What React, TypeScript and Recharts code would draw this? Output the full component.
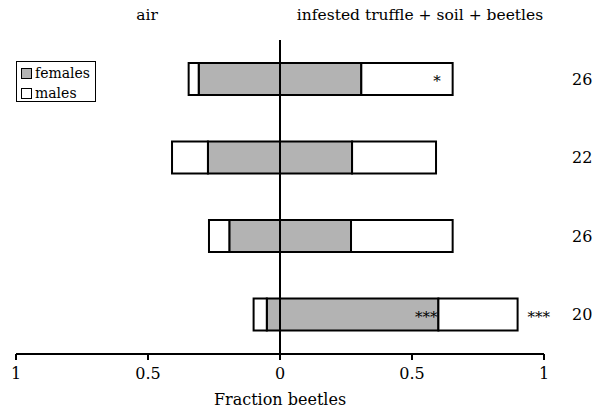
import { BarChart, Bar, XAxis, YAxis, ReferenceLine, LabelList, Label } from 'recharts';

// rows from top to bottom, fractions of beetles choosing each side
const rows = ['r1', 'r2', 'r3', 'r4'];
const sampleSizes = [26, 22, 26, 20];
const airFemales = [0.308, 0.273, 0.192, 0.05];
const airMales = [0.038, 0.136, 0.077, 0.05];
const truffleFemales = [0.308, 0.273, 0.269, 0.6];
const truffleMales = [0.346, 0.318, 0.385, 0.3];
const sigFemales = ['', '', '', '***'];
const sigMales = ['*', '', '', ''];
const sigTotal = ['', '', '', '***'];

const xTicks = [-1, -0.5, 0, 0.5, 1];
const legendItems = [
  { name: 'females', color: '#b3b3b3' },
  { name: 'males', color: '#ffffff' },
];

const data = rows.map((id, i) => ({
  id,
  n: sampleSizes[i],
  airF: -airFemales[i],
  airM: -airMales[i],
  trufF: truffleFemales[i],
  trufM: truffleMales[i],
  sigF: sigFemales[i],
  sigM: sigMales[i],
  sigT: sigTotal[i],
}));

const font = 'DejaVu Serif';

const starLabel = (mode: 'inside' | 'outside', offset: number) => (props: any) => {
  const { x, y, width, height, value } = props;
  if (!value) return null;
  const right = x + width;
  const tx = mode === 'inside' ? right - offset : right + offset;
  return (
    <text
      x={tx}
      y={y + height / 2 + 7}
      textAnchor={mode === 'inside' ? 'end' : 'start'}
      fontSize={15}
      fontFamily={font}
      fill="#000"
    >
      {value}
    </text>
  );
};

const LegendBox = () => (
  <div
    style={{
      position: 'absolute',
      left: 16,
      top: 61,
      width: 74,
      height: 38,
      border: '1.5px solid #000',
      padding: '1px 0 0 4px',
      fontFamily: font,
      fontSize: 14,
      lineHeight: '20px',
      background: '#fff',
    }}
  >
    {legendItems.map((it) => (
      <div key={it.name} style={{ display: 'flex', alignItems: 'center' }}>
        <span
          style={{
            display: 'inline-block',
            width: 9,
            height: 9,
            border: '1.2px solid #000',
            background: it.color,
            marginRight: 3,
          }}
        />
        {it.name}
      </div>
    ))}
  </div>
);

export default function App() {
  return (
    <div style={{ position: 'absolute', left: 0, top: 0, width: 595, height: 415, background: '#fff', fontFamily: font }}>
      <div style={{ position: 'absolute', left: 97, width: 100, top: 6, textAlign: 'center', fontSize: 15.5 }}>air</div>
      <div style={{ position: 'absolute', left: 270, width: 300, top: 6, textAlign: 'center', fontSize: 15.5 }}>
        infested truffle + soil + beetles
      </div>
      <BarChart
        width={595}
        height={415}
        data={data}
        layout="vertical"
        stackOffset="sign"
        margin={{ top: 40, right: 0, bottom: 31, left: 16 }}
      >
        <XAxis
          type="number"
          domain={[-1, 1]}
          ticks={xTicks}
          tickFormatter={(v: number) => String(Math.abs(v))}
          axisLine={{ stroke: '#000', strokeWidth: 2 }}
          tickLine={{ stroke: '#000', strokeWidth: 2 }}
          tickSize={6}
          tickMargin={8}
          tick={{ fill: '#000', fontSize: 16, fontFamily: font }}
          height={30}
        >
          <Label value="Fraction beetles" position="bottom" offset={10} fill="#000" fontSize={16} fontFamily={font} />
        </XAxis>
        <YAxis
          type="category"
          dataKey="id"
          orientation="right"
          width={51}
          axisLine={false}
          tickLine={false}
          tickSize={0}
          tickMargin={28}
          tickFormatter={(v: string) => String(sampleSizes[rows.indexOf(v)])}
          tick={{ fill: '#000', fontSize: 16, fontFamily: font }}
        />
        <Bar dataKey="airF" stackId="s" fill="#b3b3b3" stroke="#000" strokeWidth={2} barSize={32} isAnimationActive={false} />
        <Bar dataKey="airM" stackId="s" fill="#fff" stroke="#000" strokeWidth={2} barSize={32} isAnimationActive={false} />
        <Bar dataKey="trufF" stackId="s" fill="#b3b3b3" stroke="#000" strokeWidth={2} barSize={32} isAnimationActive={false} name="females">
          <LabelList dataKey="sigF" content={starLabel('inside', 1)} />
        </Bar>
        <Bar dataKey="trufM" stackId="s" fill="#fff" stroke="#000" strokeWidth={2} barSize={32} isAnimationActive={false} name="males">
          <LabelList dataKey="sigM" content={starLabel('inside', 12)} />
          <LabelList dataKey="sigT" content={starLabel('outside', 10)} />
        </Bar>
        <ReferenceLine x={0} stroke="#000" strokeWidth={2} />
      </BarChart>
      <LegendBox />
    </div>
  );
}
